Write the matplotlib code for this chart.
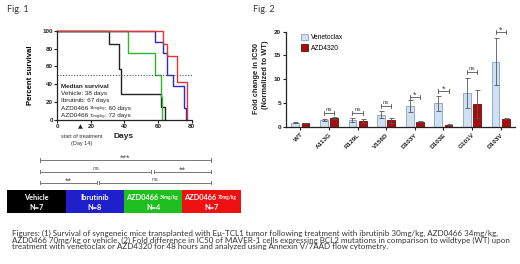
import matplotlib
matplotlib.use("Agg")
import matplotlib.pyplot as plt
from matplotlib.patches import Rectangle
import numpy as np

W, H = 520, 264
# ---------------- data ----------------
veh_t = [0, 31, 37, 38, 62, 64]
veh_s = [100, 85.7, 57.1, 28.6, 14.3, 0]
ibr_t = [0, 58, 63, 65, 69, 75.5, 76.5]
ibr_s = [100, 87.5, 75, 50, 37.5, 12.5, 0]
a34_t = [0, 42, 58, 62, 62.5]
a34_s = [100, 75, 50, 25, 0]
a70_t = [0, 63, 65, 71.5, 77]
a70_s = [100, 85.7, 71.4, 42.9, 0]

mutants = ["WT", "A113G", "R129L", "V156D", "D103Y", "D103E", "G101V", "D103V"]
ven_mean = [1.0, 1.5, 1.5, 2.6, 4.4, 5.0, 7.2, 13.7]
ven_err = [0.05, 0.15, 0.4, 0.7, 1.2, 1.6, 3.1, 4.9]
azd_mean = [0.9, 1.9, 1.3, 1.5, 1.2, 0.5, 4.9, 1.8]
azd_err = [0.05, 0.15, 0.35, 0.5, 0.1, 0.1, 2.9, 0.15]
sig_labels = [None, "ns", "ns", "ns", "*", "*", "ns", "*"]
sig_height = [None, 2.9, 2.9, 4.4, 6.4, 7.6, 11.5, 19.9]

def fr(x0, y0, x1, y1):
    return [x0 / W, 1 - y1 / H, (x1 - x0) / W, (y1 - y0) / H]

fig = plt.figure(figsize=(W / 100, H / 100), dpi=100)
ov = fig.add_axes([0, 0, 1, 1])
ov.set_xlim(0, W); ov.set_ylim(H, 0); ov.axis("off")
ov.set_zorder(10); ov.patch.set_alpha(0)

ARIAL = "Liberation Sans"
CAL = "Lato"
TXT = "#333333"

# ---------------- Fig 1 survival ----------------
ax1 = fig.add_axes(fr(57.3, 31, 191.7, 119.5))
ax1.patch.set_alpha(0)
cols = ["#222222", "#2a2acc", "#2ab82a", "#e83333"]
for t, s, c in [(veh_t, veh_s, cols[0]), (a34_t, a34_s, cols[2]),
                (ibr_t, ibr_s, cols[1]), (a70_t, a70_s, cols[3])]:
    ax1.step(t, s, where="post", color=c, lw=1.0, clip_on=False)
ax1.plot([0, 80.5], [50, 50], ls=(0, (1, 1.5)), color="#555555", lw=0.8, clip_on=False)
ax1.set_xlim(0, 80); ax1.set_ylim(0, 100)
for sp in ["top", "right"]:
    ax1.spines[sp].set_visible(False)
for sp in ["left", "bottom"]:
    ax1.spines[sp].set_linewidth(0.9); ax1.spines[sp].set_color("#222222")
ax1.set_yticks([0, 20, 40, 60, 80, 100])
ax1.set_xticks([0, 20, 40, 60, 80])
ax1.tick_params(length=2, width=0.8, pad=1, labelsize=4.5, colors="#222222")
for lab in ax1.get_xticklabels() + ax1.get_yticklabels():
    lab.set_fontweight("bold"); lab.set_fontfamily(ARIAL)
ax1.set_ylabel("Percent survival", fontsize=5.6, fontweight="bold", family=ARIAL, labelpad=6)
ov.text(124, 137, "Days", fontsize=6, fontweight="bold", family=ARIAL, ha="center", va="center", color="#222222")
ov.text(80.5, 127, "\u25B2", fontsize=4.5, ha="center", va="center", color="#222222", family="DejaVu Sans")
ov.text(81.5, 136.5, "start of treatment", fontsize=4, ha="center", va="center", color=TXT, family=ARIAL)
ov.text(81.5, 144, "(Day 14)", fontsize=4, ha="center", va="center", color=TXT, family=ARIAL)

# median survival text
mx = 60.7
FS = 4.6
ov.text(mx, 86, "Median survival", fontsize=FS, fontweight="bold", family=ARIAL, va="center", color="#222222")
ov.text(mx, 93.4, "Vehicle: 38 days", fontsize=FS, family=ARIAL, va="center", color="#222222")
ov.text(mx, 100.8, "Ibrutinib: 67 days", fontsize=FS, family=ARIAL, va="center", color="#222222")
for yy, dose, med in [(108.2, "34mg/kg", "60"), (115.6, "70mg/kg", "72")]:
    t1 = ov.text(mx, yy, "AZD0466 ", fontsize=FS, family=ARIAL, va="center", color="#222222")
    t2 = ov.annotate(dose, xycoords=t1, xy=(1, 0.5), va="center", fontsize=3.0, family=ARIAL, color="#222222")
    ov.annotate(": " + med + " days", xycoords=t2, xy=(1, 0.5), va="center", fontsize=FS, family=ARIAL, color="#222222")

# comparison brackets
def hbr(x0, x1, y, label, ly):
    ov.plot([x0, x1], [y, y], color="#777777", lw=0.7)
    ov.plot([x0, x0], [y - 1.6, y + 1.6], color="#777777", lw=0.7)
    ov.plot([x1, x1], [y - 1.6, y + 1.6], color="#777777", lw=0.7)
    star = "*" in label
    ov.text((x0 + x1) / 2, ly + (1.2 if star else 0), label, fontsize=6.5 if star else 4.6,
            ha="center", va="center", color="#555555", family=ARIAL)

hbr(40, 210.7, 160, "***", 157.5)
hbr(40, 151, 171.5, "ns", 168.5)
hbr(154.3, 210.7, 171.5, "**", 168.8)
hbr(40, 96.7, 182.7, "**", 180)
hbr(99.3, 210.7, 182.7, "ns", 179.7)

# colour boxes
groups = [("Vehicle", None, "N=7", "#000000"), ("Ibrutinib", None, "N=8", "#1f1fcc"),
          ("AZD0466", "34mg/kg", "N=4", "#1fbf1f"), ("AZD0466", "70mg/kg", "N=7", "#ee1111")]
edges = [7.3, 65.7, 124.3, 182.3, 240.7]
for i, (n1, dose, n2, c) in enumerate(groups):
    x0, x1 = edges[i], edges[i + 1]
    ov.add_patch(Rectangle((x0, 190), x1 - x0, 22.7, color=c, lw=0))
    cx = (x0 + x1) / 2
    if dose is None:
        ov.text(cx, 197.5, n1, fontsize=5.3, fontweight="bold", color="white", ha="center", va="center", family=CAL)
    else:
        ov.text(x0 + 2, 197.5, n1, fontsize=5.3, fontweight="bold", color="white", ha="left", va="center", family=CAL)
        ov.text(x0 + 35.5, 197.8, dose, fontsize=3.3, fontweight="bold", color="white", ha="left", va="center", family=CAL)
    ov.text(cx, 207.3, n2, fontsize=5.3, fontweight="bold", color="white", ha="center", va="center", family=CAL)

ov.text(7, 10, "Fig. 1", fontsize=6.5, family=CAL, va="center", color="#333333")
ov.text(253, 10, "Fig. 2", fontsize=6.5, family=CAL, va="center", color="#333333")

# ---------------- Fig 2 bars ----------------
ax2 = fig.add_axes(fr(286, 31.5, 515, 127.3))
ax2.patch.set_alpha(0)
x = np.arange(len(mutants))
bw, off = 0.27, 0.18
ax2.bar(x - off, ven_mean, bw, color="#cfe0f2", edgecolor="#8aa2bd", lw=0.6, zorder=2, label="Venetoclax")
ax2.bar(x + off, azd_mean, bw, color="#a80d0d", edgecolor="#6a0a0a", lw=0.6, zorder=2, label="AZD4320")
ax2.errorbar(x - off, ven_mean, yerr=ven_err, fmt="none", ecolor="#555555", elinewidth=0.6, capsize=1.8, capthick=0.6, zorder=3)
ax2.errorbar(x + off, azd_mean, yerr=azd_err, fmt="none", ecolor="#555555", elinewidth=0.6, capsize=1.8, capthick=0.6, zorder=3)
for i, (lab, hgt) in enumerate(zip(sig_labels, sig_height)):
    if lab is None:
        continue
    x0, x1 = i - off, i + off
    ax2.plot([x0, x1], [hgt, hgt], color="#555555", lw=0.6, clip_on=False)
    ax2.plot([x0, x0], [hgt - 0.4, hgt + 0.4], color="#555555", lw=0.6, clip_on=False)
    ax2.plot([x1, x1], [hgt - 0.4, hgt + 0.4], color="#555555", lw=0.6, clip_on=False)
    if lab == "ns":
        ax2.text(i, hgt + 0.85, lab, fontsize=4.5, ha="center", va="center", color="#444444", family=ARIAL)
    else:
        ax2.text(i, hgt + 0.35, lab, fontsize=6.5, ha="center", va="center", color="#444444", family=ARIAL)
ax2.set_xlim(-0.5, len(mutants) - 0.5)
ax2.set_ylim(0, 20)
ax2.set_yticks([0, 5, 10, 15, 20])
ax2.set_xticks(x)
ax2.set_xticklabels(mutants, rotation=45, ha="right", rotation_mode="anchor")
for sp in ["top", "right"]:
    ax2.spines[sp].set_visible(False)
for sp in ["left", "bottom"]:
    ax2.spines[sp].set_linewidth(0.9); ax2.spines[sp].set_color("#222222")
ax2.tick_params(length=2, width=0.8, pad=1.5, labelsize=4.6, colors="#222222")
for lab in ax2.get_xticklabels() + ax2.get_yticklabels():
    lab.set_fontweight("bold"); lab.set_fontfamily(ARIAL)
ov.text(257, 78, "Fold change in IC50", rotation=90, fontsize=5.4, fontweight="bold", family=ARIAL,
        ha="center", va="center", color="#222222")
ov.text(265.5, 75, "(Normalized to WT)", rotation=90, fontsize=5.4, fontweight="bold", family=ARIAL,
        ha="center", va="center", color="#222222")
leg = ax2.legend(loc="upper left", bbox_to_anchor=(0.04, 1.04), frameon=False,
                 handlelength=1.1, handleheight=1.1, handletextpad=0.3, labelspacing=0.5,
                 prop={"family": ARIAL, "size": 4.8})

# ---------------- caption ----------------
cap = ["Figures: (1) Survival of syngeneic mice transplanted with E\u03bc-TCL1 tumor following treatment with ibrutinib 30mg/kg, AZD0466 34mg/kg,",
       "AZD0466 70mg/kg or vehicle. (2) Fold difference in IC50 of MAVER-1 cells expressing BCL2 mutations in comparison to wildtype (WT) upon",
       "treatment with venetoclax or AZD4320 for 48 hours and analyzed using Annexin V/7AAD flow cytometry."]
for k, line in enumerate(cap):
    ov.text(12, 233.3 + 6.8 * k, line, fontsize=5.8, family=CAL, va="center", color="#333333")

fig.savefig("out.png", dpi=100)
